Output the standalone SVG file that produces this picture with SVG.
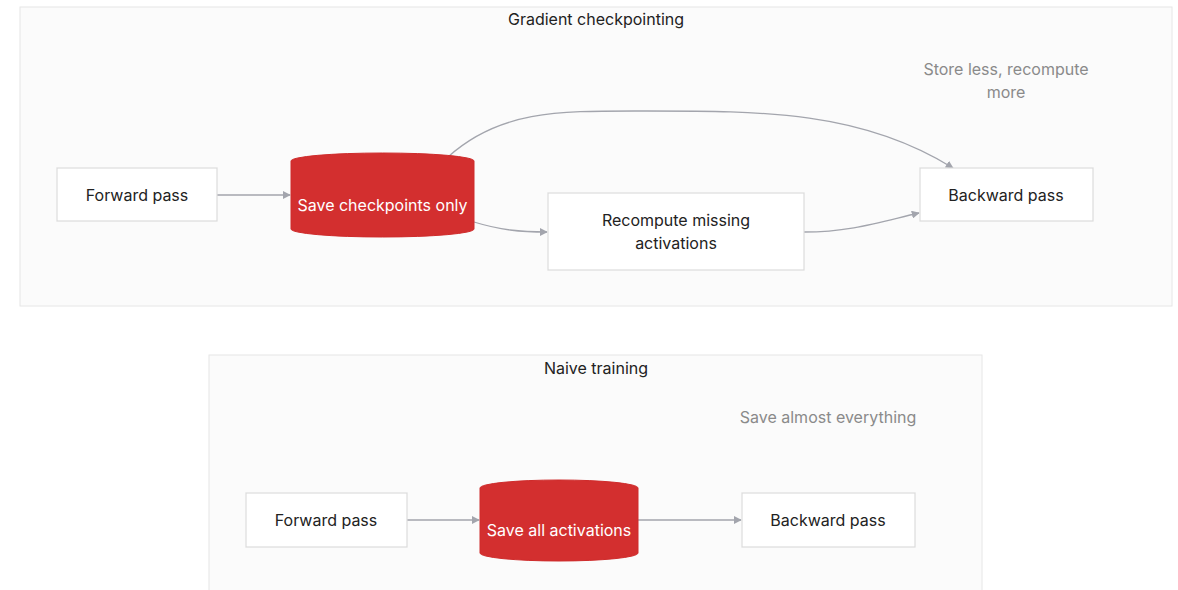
<svg xmlns="http://www.w3.org/2000/svg" width="1178" height="590" viewBox="0 0 1178 590">
<style>
.cluster{fill:#fbfbfb;stroke:#e6e6e6;stroke-width:1}
.node{fill:#ffffff;stroke:#dcdcdc;stroke-width:1.2}
.db{fill:#d32f2f;stroke:#cf2c2c;stroke-width:1}
.edge{fill:none;stroke:#a3a5ad;stroke-width:1.3}
text{font-family:Inter,"Liberation Sans",sans-serif;font-size:16px;text-anchor:middle;dominant-baseline:central}
.lbl{fill:#222222}
.wt{fill:#ffffff}
.note{fill:#8a8a8a}
</style>
<defs>
<marker id="arr" viewBox="0 0 10 10" refX="9" refY="5" markerWidth="8" markerHeight="8" orient="auto" markerUnits="userSpaceOnUse">
<path d="M0,0 L10,5 L0,10 z" fill="#a3a5ad"/>
</marker>
</defs>
<g id="cluster-gradient">
<rect class="cluster" x="20" y="7" width="1152" height="299"/>
<text class="lbl" x="596" y="19">Gradient checkpointing</text>
<text class="note" x="1006" y="69">Store less, recompute</text>
<text class="note" x="1006" y="92">more</text>
</g>
<g id="cluster-naive">
<rect class="cluster" x="209" y="355" width="773" height="240"/>
<text class="lbl" x="596" y="368">Naive training</text>
<text class="note" x="828" y="417">Save almost everything</text>
</g>
<g id="connectors">
<path class="edge" marker-end="url(#arr)" d="M217,195 L290,195"/>
<path class="edge" marker-end="url(#arr)" d="M474,222 C500,230 520,232 547,232"/>
<path class="edge" marker-end="url(#arr)" d="M448,157 C500,110 560,111 640,111 C760,111 860,110 953,168"/>
<path class="edge" marker-end="url(#arr)" d="M804,232 C850,232 880,222 919,213"/>
<path class="edge" marker-end="url(#arr)" d="M407,520 L479,520"/>
<path class="edge" marker-end="url(#arr)" d="M638,520 L741,520"/>
</g>
<g id="gc-forward">
<rect class="node" x="57" y="168" width="160" height="53"/>
<text class="lbl" x="137" y="195">Forward pass</text>
</g>
<g id="gc-save">
<path class="db" d="M291,161 A91.5,8 0 0 1 474,161 L474,229 A91.5,8 0 0 1 291,229 Z"/>
<text class="wt" x="382.5" y="205">Save checkpoints only</text>
</g>
<g id="gc-recompute">
<rect class="node" x="548" y="193" width="256" height="77"/>
<text class="lbl" x="676" y="220">Recompute missing</text>
<text class="lbl" x="676" y="243">activations</text>
</g>
<g id="gc-backward">
<rect class="node" x="920" y="168" width="173" height="53"/>
<text class="lbl" x="1006" y="195">Backward pass</text>
</g>
<g id="nv-forward">
<rect class="node" x="246" y="493" width="161" height="54"/>
<text class="lbl" x="326" y="520">Forward pass</text>
</g>
<g id="nv-save">
<path class="db" d="M480,488 A79,8 0 0 1 638,488 L638,553 A79,8 0 0 1 480,553 Z"/>
<text class="wt" x="559" y="530">Save all activations</text>
</g>
<g id="nv-backward">
<rect class="node" x="742" y="493" width="173" height="54"/>
<text class="lbl" x="828" y="520">Backward pass</text>
</g>
</svg>
